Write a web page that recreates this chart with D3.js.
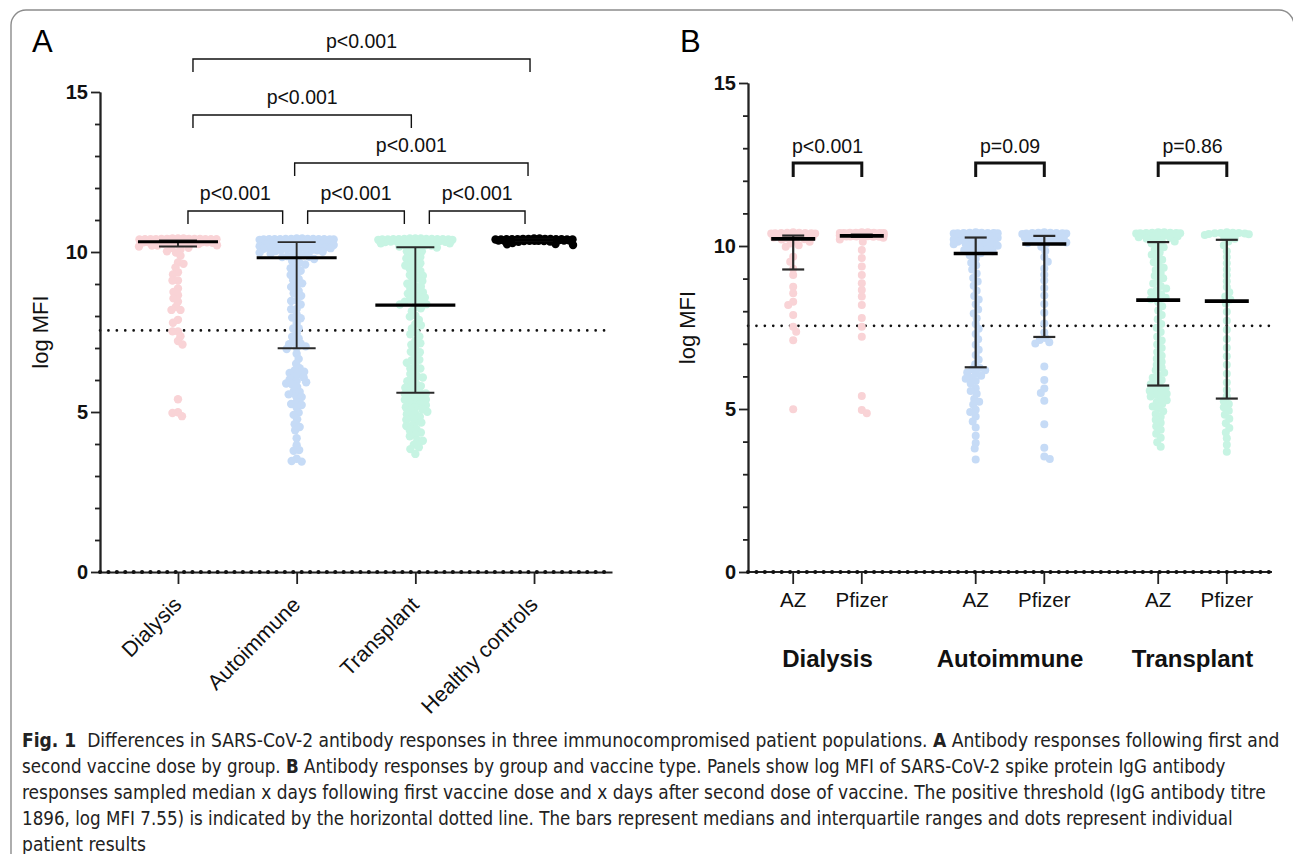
<!DOCTYPE html>
<html><head><meta charset="utf-8">
<script src="https://cdn.jsdelivr.net/npm/d3@7"></script>
<style>body{margin:0;background:#fff}svg{display:block}</style>
</head><body><svg id="c" width="1293" height="854"></svg>
<script>
// ---------------- DATA ----------------
const catsA = ["Dialysis", "Autoimmune", "Transplant", "Healthy controls"];
const groupsB = ["Dialysis", "Autoimmune", "Transplant"];
const vaccines = ["AZ", "Pfizer"];
const yTicksMajor = [0, 5, 10, 15];
const yTicksMinor = [1, 2, 3, 4, 6, 7, 8, 9, 11, 12, 13, 14];
const threshold = 7.55;

const dialysisAZ = [10.42,10.41,10.41,10.40,10.40,10.39,10.39,10.38,10.38,10.37,10.36,10.36,10.35,10.34,10.33,10.32,10.30,10.28,10.26,10.24,
  10.21,10.20,10.17,10.13,10.08,10.02,9.98,9.67,9.52,9.30,9.11,8.75,8.55,8.29,8.19,7.88,7.52,7.37,7.11,4.99];
const dialysisPfizer = [10.42,10.42,10.41,10.41,10.41,10.40,10.40,10.40,10.40,10.39,10.39,10.39,10.38,10.38,10.38,10.38,10.37,10.37,10.37,10.36,
  10.36,10.36,10.35,10.35,10.35,10.34,10.34,10.34,10.33,10.33,10.33,10.32,10.32,10.32,10.31,10.31,10.31,10.30,10.30,10.30,10.29,10.29,10.29,10.28,10.28,
  10.25,10.20,10.13,9.88,9.63,9.37,9.11,8.86,8.65,8.45,8.19,7.79,7.52,7.22,5.40,4.97,4.87];
const autoimmuneAZ = [10.42,10.41,10.41,10.40,10.40,10.40,10.39,10.39,10.38,10.38,10.37,10.37,10.36,10.36,10.35,10.35,10.34,10.33,10.33,10.32,10.31,10.30,10.29,10.28,10.27,
  10.25,10.24,10.23,10.22,10.20,10.19,10.18,10.16,10.15,10.13,10.12,10.10,10.08,10.06,10.05,10.03,10.01,9.98,9.95,9.93,9.90,9.87,9.84,9.81,9.78,
  9.72,9.61,9.49,9.41,9.28,9.16,9.02,8.91,8.78,8.63,8.47,8.36,8.21,8.05,7.93,7.78,7.61,7.46,7.30,7.14,6.97,6.82,6.66,6.51,6.37,
  6.26,6.22,6.19,6.12,6.08,6.02,5.97,5.93,5.86,5.78,5.64,5.55,5.47,5.31,5.22,5.14,4.98,4.91,4.77,4.62,4.43,4.18,3.96,3.79,3.45];
const autoimmunePfizer = [10.42,10.41,10.41,10.40,10.40,10.39,10.38,10.38,10.37,10.36,10.35,10.34,10.33,
  10.30,10.29,10.27,10.25,10.23,10.21,10.19,10.17,10.15,10.13,10.11,10.09,10.07,
  9.98,9.85,9.66,9.52,9.31,9.12,8.94,8.71,8.48,8.22,7.95,7.62,7.35,
  7.18,7.12,7.05,7.01,6.30,5.89,5.63,5.49,5.25,4.53,3.81,3.54,3.47];
const transplantAZ = [10.42,10.42,10.41,10.41,10.40,10.40,10.39,10.39,10.38,10.38,10.37,10.36,10.36,10.35,10.34,10.33,10.32,10.30,10.29,10.27,10.25,10.22,10.20,10.17,10.14,
  10.08,10.02,9.96,9.88,9.80,9.73,9.65,9.58,9.50,9.41,9.33,9.26,9.17,9.09,9.01,8.93,8.85,8.77,8.70,8.64,8.58,8.52,8.46,8.41,8.37,
  8.28,8.15,8.02,7.88,7.75,7.61,7.49,7.36,7.22,7.10,6.98,6.87,6.75,6.63,6.54,6.45,6.36,6.27,6.19,6.11,6.03,5.96,5.89,5.82,5.76,
  5.69,5.64,5.60,5.56,5.52,5.47,5.43,5.38,5.33,5.27,5.21,5.15,5.08,5.01,4.93,4.85,4.76,4.67,4.58,4.47,4.36,4.24,4.12,3.98,3.84];
const transplantPfizer = [10.42,10.41,10.40,10.40,10.39,10.38,10.37,10.36,10.34,10.31,10.27,10.22,
  10.14,10.02,9.84,9.66,9.47,9.28,9.10,8.92,8.74,8.58,8.45,8.36,
  8.24,7.98,7.71,7.43,7.15,6.88,6.62,6.36,6.08,5.81,5.58,5.39,
  5.24,5.15,5.05,4.95,4.82,4.70,4.56,4.42,4.28,4.10,3.90,3.69];
const healthyControls = [10.42,10.42,10.41,10.41,10.41,10.41,10.40,10.40,10.40,10.40,10.40,10.39,10.39,10.39,10.39,10.39,10.38,10.38,10.38,10.38,
  10.38,10.37,10.37,10.37,10.37,10.36,10.36,10.36,10.36,10.35,10.35,10.35,10.34,10.34,10.33,10.32,10.28,10.25,10.24,10.22];

// medians and interquartile ranges
const medianA = [10.32, 9.82, 8.34, 10.38];
const q1A     = [10.17, 6.99, 5.60, 10.36];
const q3A     = [10.36, 10.31, 10.15, 10.40];
const medianB = [10.22, 10.31, 9.77, 10.06, 8.34, 8.31];
const q1B     = [9.28, 10.28, 6.28, 7.21, 5.72, 5.32];
const q3B     = [10.32, 10.35, 10.26, 10.31, 10.12, 10.19];

const bracketPairsA = [["Dialysis","Autoimmune"],["Autoimmune","Transplant"],["Transplant","Healthy controls"],
                       ["Autoimmune","Healthy controls"],["Dialysis","Transplant"],["Dialysis","Healthy controls"]];
const bracketLabelsA = ["p<0.001","p<0.001","p<0.001","p<0.001","p<0.001","p<0.001"];
const bracketLabelsB = ["p<0.001","p=0.09","p=0.86"];

const captionLines = [
  [["Fig. 1", true], ["  Differences in SARS-CoV-2 antibody responses in three immunocompromised patient populations. ", false], ["A", true], [" Antibody responses following first and", false]],
  [["second vaccine dose by group. ", false], ["B", true], [" Antibody responses by group and vaccine type. Panels show log MFI of SARS-CoV-2 spike protein IgG antibody", false]],
  [["responses sampled median x days following first vaccine dose and x days after second dose of vaccine. The positive threshold (IgG antibody titre", false]],
  [["1896, log MFI 7.55) is indicated by the horizontal dotted line. The bars represent medians and interquartile ranges and dots represent individual", false]],
  [["patient results", false]]
];

// ---------------- DRAWING ----------------
const svg = d3.select("#c");
const FONT = "'Liberation Sans', Arial, Helvetica, sans-serif";
const colors = {Dialysis:"#f9d3d6", Autoimmune:"#c6dbf6", Transplant:"#c7f4e3", "Healthy controls":"#000"};
const AXC = "#222";

// frame
svg.append("rect").attr("x",11).attr("y",10).attr("width",1283).attr("height",900).attr("rx",15)
  .attr("fill","none").attr("stroke","#8c8c8c").attr("stroke-width",1.4);

function swarm(values, cx, y, r, W, d) {
  const pts = values.map(v => ({v, y: y(v)})).sort((a,b) => a.y - b.y);
  const placed = [];
  pts.forEach((p, i) => {
    let best = 0, bestD = -1, found = false;
    const sign = i % 2 ? 1 : -1;
    for (let k = 0; k <= W && !found; k += 0.5) {
      const cands = k === 0 ? [0] : [sign*k, -sign*k];
      for (const off of cands) {
        let md = Infinity;
        for (const q of placed) {
          const dy = q.y - p.y; if (Math.abs(dy) >= d) continue;
          const dd = Math.hypot(q.off - off, dy); if (dd < md) md = dd;
        }
        if (md >= d) { best = off; found = true; break; }
        if (md > bestD) { bestD = md; best = off; }
      }
    }
    p.off = best; placed.push(p);
  });
  return pts.map(p => ({x: cx + p.off, y: p.y}));
}

function yAxis(g, y, x0) {
  const minor = g.append("g").attr("transform", `translate(${x0},0)`)
    .call(d3.axisLeft(y).tickValues(yTicksMinor).tickSize(5).tickSizeOuter(0).tickFormat(""));
  const major = g.append("g").attr("transform", `translate(${x0},0)`)
    .call(d3.axisLeft(y).tickValues(yTicksMajor).tickSize(9).tickSizeOuter(0).tickPadding(3));
  [minor, major].forEach(a => {
    a.selectAll("path,line").attr("stroke", AXC).attr("stroke-width", 1.8);
    a.selectAll("text").attr("font-family", FONT).attr("font-weight","bold").attr("font-size", 20).attr("fill","#111");
  });
}
function dotted(g, x1, x2, yy, w) {
  g.append("line").attr("x1",x1).attr("x2",x2).attr("y1",yy).attr("y2",yy)
    .attr("stroke","#111").attr("stroke-width",w || 2.6).attr("stroke-linecap","round").attr("stroke-dasharray","0.1 8.3");
}
function errBar(g, cx, med, q1, q3, y, mw, cw, mws, ws) {
  g.append("line").attr("x1",cx).attr("x2",cx).attr("y1",y(q1)).attr("y2",y(q3)).attr("stroke","#2a2a2a").attr("stroke-width",ws);
  [q1,q3].forEach(v => g.append("line").attr("x1",cx-cw).attr("x2",cx+cw).attr("y1",y(v)).attr("y2",y(v)).attr("stroke","#2a2a2a").attr("stroke-width",ws));
  g.append("line").attr("x1",cx-mw).attr("x2",cx+mw).attr("y1",y(med)).attr("y2",y(med)).attr("stroke","#000").attr("stroke-width",mws);
}

// ===== Panel A =====
const gA = svg.append("g");
const yA = d3.scaleLinear().domain([0,15]).range([572,92]);
const xA = d3.scalePoint().domain(catsA).range([100,612]).padding(0.657);
const dataA = [dialysisAZ.concat(dialysisPfizer), autoimmuneAZ.concat(autoimmunePfizer), transplantAZ.concat(transplantPfizer), healthyControls];

gA.append("text").attr("x",32).attr("y",52).attr("font-family",FONT).attr("font-size",31).text("A");

dotted(gA, 100, 612, yA(threshold));

catsA.forEach((c, i) => {
  const pts = swarm(dataA[i], xA(c), yA, 4.2, i === 0 || i === 3 ? 39 : 37, 5.4);
  gA.append("g").selectAll("circle").data(pts).join("circle")
    .attr("cx", d => d.x).attr("cy", d => d.y).attr("r", 4.2).attr("fill", colors[c]);
});
catsA.forEach((c, i) => errBar(gA, xA(c), medianA[i], q1A[i], q3A[i], yA, 40, 19, 3.2, 1.9));

yAxis(gA, yA, 100);
const xaxA = gA.append("g").attr("transform","translate(0,572)")
  .call(d3.axisBottom(xA).tickSize(12).tickSizeOuter(0).tickFormat(""));
xaxA.selectAll("path,line").attr("stroke",AXC).attr("stroke-width",1.8);
dotted(gA, 100, 612, 572, 4);
catsA.forEach(c => {
  gA.append("text").attr("transform",`translate(${xA(c)+5},606) rotate(-45)`)
    .attr("text-anchor","end").attr("font-family",FONT).attr("font-size",21.5).attr("fill","#111").text(c);
});
gA.append("text").attr("transform",`translate(48,${yA(7.5)}) rotate(-90)`).attr("text-anchor","middle")
  .attr("font-family",FONT).attr("font-size",22).attr("fill","#111").text("log MFI");

// brackets A
const levelY = [211,211,211,163,115,59];
const insets = [[10,14],[11,11],[14,9],[-2,6],[15,4],[15,4]];
bracketPairsA.forEach((p, i) => {
  const x1 = xA(p[0]) + insets[i][0], x2 = xA(p[1]) - insets[i][1], ly = levelY[i];
  gA.append("path").attr("d",`M${x1},${ly+13}V${ly}H${x2}V${ly+13}`).attr("fill","none").attr("stroke","#111").attr("stroke-width",1.4);
  gA.append("text").attr("x",(x1+x2)/2).attr("y",ly-11).attr("text-anchor","middle")
    .attr("font-family",FONT).attr("font-size",19.5).attr("fill","#111").text(bracketLabelsA[i]);
});

// ===== Panel B =====
const gB = svg.append("g");
const yB = d3.scaleLinear().domain([0,15]).range([572,83]);
const xG = d3.scalePoint().domain(groupsB).range([748,1272]).padding(0.4356);
const xV = d3.scalePoint().domain(vaccines).range([-34.3,34.3]);
const dataB = [dialysisAZ, dialysisPfizer, autoimmuneAZ, autoimmunePfizer, transplantAZ, transplantPfizer];
const positionsB = [];
groupsB.forEach(g => vaccines.forEach(v => positionsB.push({g, v, x: xG(g) + xV(v)})));

gB.append("text").attr("x",680).attr("y",52).attr("font-family",FONT).attr("font-size",31).text("B");
dotted(gB, 748, 1270, yB(threshold));

positionsB.forEach((p, i) => {
  const pts = swarm(dataB[i], p.x, yB, 4, 22, 5.6);
  gB.append("g").selectAll("circle").data(pts).join("circle")
    .attr("cx", d => d.x).attr("cy", d => d.y).attr("r", 4).attr("fill", colors[p.g]);
});
positionsB.forEach((p, i) => errBar(gB, p.x, medianB[i], q1B[i], q3B[i], yB, 22, 11, 3.6, 2.2));

yAxis(gB, yB, 748);
const xaxB = gB.append("g").attr("transform","translate(0,572)");
xaxB.append("line").attr("x1",748).attr("x2",1272).attr("y1",0).attr("y2",0).attr("stroke",AXC).attr("stroke-width",1.8);
positionsB.forEach(p => {
  xaxB.append("line").attr("x1",p.x).attr("x2",p.x).attr("y1",0).attr("y2",12).attr("stroke",AXC).attr("stroke-width",1.8);
  xaxB.append("text").attr("x",p.x).attr("y",35).attr("text-anchor","middle").attr("font-family",FONT)
    .attr("font-size",20.5).attr("fill","#111").text(p.v);
});
dotted(gB, 748, 1272, 572, 4);
groupsB.forEach(g => gB.append("text").attr("x",xG(g)).attr("y",667).attr("text-anchor","middle")
  .attr("font-family",FONT).attr("font-weight","bold").attr("font-size",24).attr("fill","#111").text(g));
gB.append("text").attr("transform",`translate(695,${yB(7.5)}) rotate(-90)`).attr("text-anchor","middle")
  .attr("font-family",FONT).attr("font-size",22).attr("fill","#111").text("log MFI");

groupsB.forEach((g, i) => {
  const x1 = xG(g) + xV("AZ"), x2 = xG(g) + xV("Pfizer"), ly = 163;
  gB.append("path").attr("d",`M${x1},${ly+14}V${ly}H${x2}V${ly+14}`).attr("fill","none").attr("stroke","#111").attr("stroke-width",3);
  gB.append("text").attr("x",(x1+x2)/2).attr("y",ly-10).attr("text-anchor","middle")
    .attr("font-family",FONT).attr("font-size",19.5).attr("fill","#111").text(bracketLabelsB[i]);
});

// ===== Caption =====
const capRight = [1281, 1227, 1266, 1233, 146];
captionLines.forEach((parts, i) => {
  const t = svg.append("text").attr("x",0).attr("y",0)
    .attr("font-family","'Liberation Sans Narrow','DejaVu Sans Condensed','Open Sans',sans-serif")
    .attr("font-size",19).attr("fill","#222").style("white-space","pre");
  parts.forEach(([s, b]) => t.append("tspan").attr("font-weight", b ? "bold" : "normal").text(s));
  const w = t.node().getComputedTextLength();
  const k = (capRight[i] - 22) / w;
  t.attr("transform", `translate(22,${747 + i*26}) scale(${k},1)`);
});
</script></body></html>
